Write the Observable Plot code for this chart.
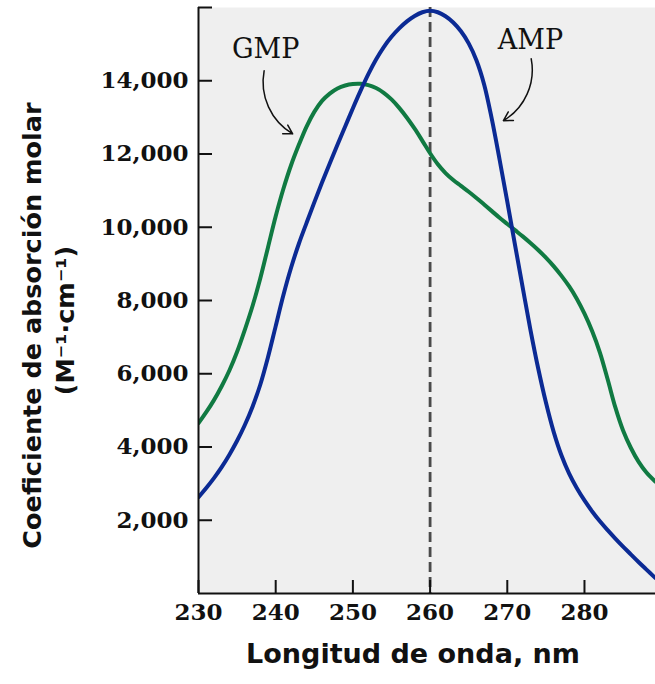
<!DOCTYPE html>
<html>
<head>
<meta charset="utf-8">
<script src="https://cdn.jsdelivr.net/npm/d3@7"></script>
<script src="https://cdn.jsdelivr.net/npm/@observablehq/plot@0.6"></script>
<style>
  html, body { margin: 0; padding: 0; background: #fff; }
  #chart svg { display: block; }
</style>
</head>
<body>
<div id="chart"></div>
<script>
// Wavelength (nm) and molar absorption coefficient (M^-1 cm^-1)
const ampWavelength = [230,231,232,233,234,235,236,237,238,239,240,241,242,243,244,245,246,247,248,249,250,251,252,253,254,255,256,257,258,259,260,261,262,263,264,265,266,267,268,269,270,271,272,273,274,275,276,277,278,279,280,281,282,283,284,285,286,287,288,289.2];
const ampValue      = [2630,2880,3150,3450,3790,4170,4600,5100,5700,6450,7300,8150,8900,9550,10120,10680,11220,11740,12250,12750,13250,13730,14180,14580,14920,15200,15430,15620,15770,15870,15910,15870,15760,15590,15350,15020,14560,13900,12950,11850,10700,9520,8350,7200,6150,5220,4420,3780,3280,2880,2540,2240,1970,1730,1500,1280,1070,860,660,420];

const gmpWavelength = [230,231,232,233,234,235,236,237,238,239,240,241,242,243,244,245,246,247,248,249,250,251,252,253,254,255,256,257,258,259,260,261,262,263,264,265,266,267,268,269,270,271,272,273,274,275,276,277,278,279,280,281,282,283,284,285,286,287,288,289.2];
const gmpValue      = [4650,4950,5280,5660,6090,6600,7200,7850,8600,9450,10300,11050,11700,12250,12750,13150,13450,13650,13790,13870,13910,13915,13880,13800,13670,13490,13260,12990,12690,12360,12020,11720,11480,11290,11130,10970,10800,10620,10440,10260,10090,9920,9750,9570,9380,9170,8940,8680,8390,8050,7640,7160,6580,5850,5080,4450,3980,3600,3310,3050];

const xTicks = [230, 240, 250, 260, 270, 280];
const yTicks = [2000, 4000, 6000, 8000, 10000, 12000, 14000, 16000];
const yLabelled = [2000, 4000, 6000, 8000, 10000, 12000, 14000];
const peakLine = [260];

const seriesNames = ["GMP", "AMP"];
const labelX = [238.7, 273.0];
const labelY = [14870, 15090];
const gmpArrow = [{x1: 238.5, y1: 14270, x2: 242.2, y2: 12550}];
const ampArrow = [{x1: 273.1, y1: 14600, x2: 269.5, y2: 12910}];

const yTitle = "Coeficiente de absorción molar";
const yUnits = "(M⁻¹·cm⁻¹)";
const xTitle = "Longitud de onda, nm";

const amp = ampWavelength.map((w, i) => ({w, v: ampValue[i]}));
const gmp = gmpWavelength.map((w, i) => ({w, v: gmpValue[i]}));
const labels = seriesNames.map((name, i) => ({name, x: labelX[i], y: labelY[i]}));

const fmt = d3.format(",");
const titleFont = "'DejaVu Sans', sans-serif";
const tickFont = "'DejaVu Serif', serif";

const chart = Plot.plot({
  width: 655,
  height: 684,
  marginLeft: 198,
  marginRight: 0,
  marginTop: 7,
  marginBottom: 91,
  x: {domain: [230, 289.2]},
  y: {domain: [0, 16000]},
  style: {background: "#fff", color: "#111"},
  marks: [
    Plot.frame({fill: "#efefef", stroke: "none"}),
    Plot.ruleX(peakLine, {stroke: "#4a4a4a", strokeWidth: 2.8, strokeDasharray: "10,5"}),
    Plot.line(gmp, {x: "w", y: "v", stroke: "#107a42", strokeWidth: 4, curve: "catmull-rom", clip: true}),
    Plot.line(amp, {x: "w", y: "v", stroke: "#0b2a94", strokeWidth: 4, curve: "catmull-rom", clip: true}),
    Plot.ruleX([230], {stroke: "#111", strokeWidth: 2}),
    Plot.ruleY([0], {stroke: "#111", strokeWidth: 2}),
    Plot.axisY({
      ticks: yTicks, tickSize: 14, dx: 14, tickPadding: 10, strokeWidth: 2,
      tickFormat: d => yLabelled.includes(d) ? fmt(d) : "",
      fontFamily: tickFont, fontSize: 23, fontWeight: "bold", label: null
    }),
    Plot.axisX({
      ticks: xTicks, tickSize: 13, dy: -13, tickPadding: 10, strokeWidth: 2,
      tickFormat: d => String(d),
      fontFamily: tickFont, fontSize: 23, fontWeight: "bold", label: null
    }),
    Plot.text(labels, {x: "x", y: "y", text: "name", fontFamily: tickFont, fontSize: 27, fill: "#111"}),
    Plot.arrow(gmpArrow, {x1: "x1", y1: "y1", x2: "x2", y2: "y2", bend: -35, stroke: "#111", strokeWidth: 1.5, headLength: 10}),
    Plot.arrow(ampArrow, {x1: "x1", y1: "y1", x2: "x2", y2: "y2", bend: 35, stroke: "#111", strokeWidth: 1.5, headLength: 10}),
    Plot.text([yTitle], {frameAnchor: "left", textAnchor: "middle", rotate: -90, dx: -166, dy: 25, fontFamily: titleFont, fontSize: 25.5, fontWeight: "bold", fill: "#111"}),
    Plot.text([yUnits], {frameAnchor: "left", textAnchor: "middle", rotate: -90, dx: -133, dy: 20, fontFamily: titleFont, fontSize: 25.5, fontWeight: "bold", fill: "#111"}),
    Plot.text([xTitle], {frameAnchor: "bottom", dx: -14, dy: 69, fontFamily: titleFont, fontSize: 27, fontWeight: "bold", fill: "#111"})
  ]
});
document.getElementById("chart").appendChild(chart);
</script>
</body>
</html>
